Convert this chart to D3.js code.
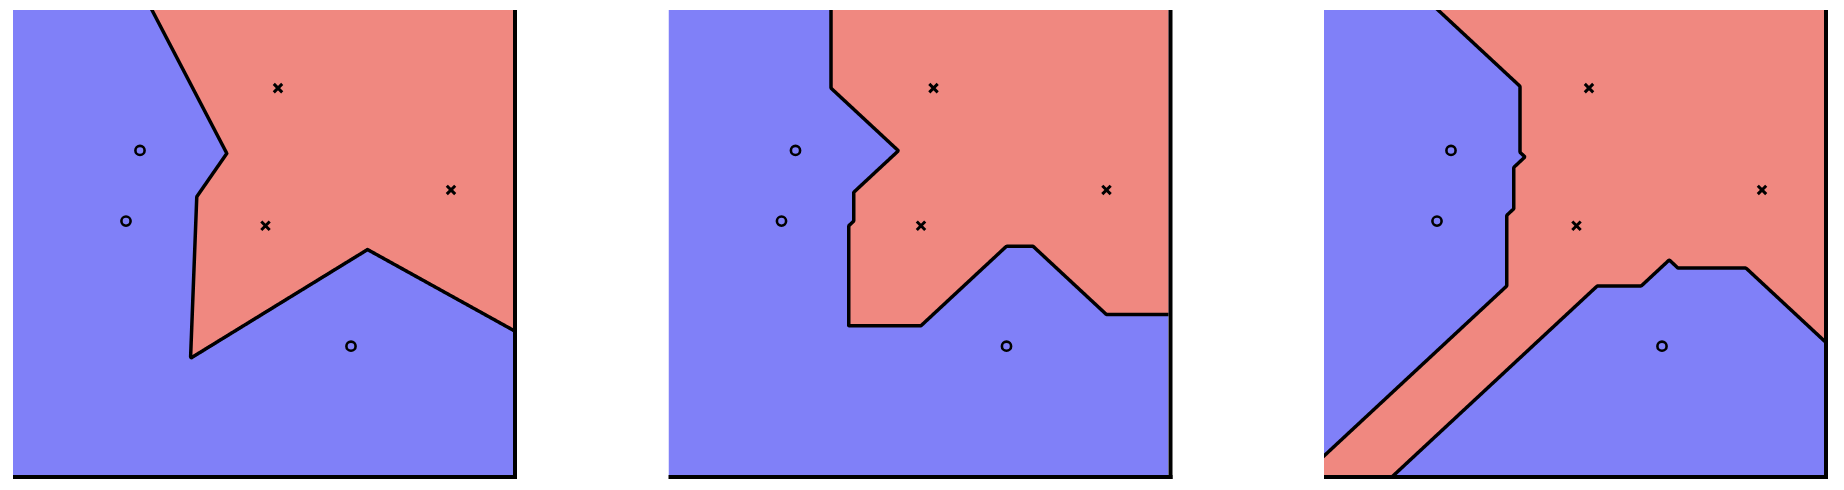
<!DOCTYPE html>
<html>
<head>
<meta charset="utf-8">
<script src="https://cdn.jsdelivr.net/npm/d3@7"></script>
<style>
  html, body { margin: 0; padding: 0; background: #ffffff; }
  svg { display: block; }
</style>
</head>
<body>
<svg id="chart" width="1844" height="490"></svg>
<script>
// ---- data ----
const metrics = ["L2", "L1", "Linf"];           // one panel per distance metric (1-NN)
const crossX  = [5.30, 8.76, 5.05];             // class "x" (red) points
const crossY  = [8.32, 6.13, 5.36];
const circleX = [2.54, 2.26, 6.76];             // class "o" (blue) points
const circleY = [6.98, 5.46, 2.77];
const domainX = [0, 10];
const domainY = [0, 10];

// ---- layout ----
const panelLeft = [13, 668.5, 1324];
const panelTop = 10, W = 500, H = 465;
const blue = "#8080f8", red = "#f08880";

const dist = {
  L2: (a, b) => Math.hypot(a, b),
  L1: (a, b) => Math.abs(a) + Math.abs(b),
  Linf: (a, b) => Math.max(Math.abs(a), Math.abs(b))
};

const svg = d3.select("#chart");
const x = d3.scaleLinear().domain(domainX).range([0, W]);
const y = d3.scaleLinear().domain(domainY).range([H, 0]);

const reds = crossX.map((v, i) => [v, crossY[i]]);
const blues = circleX.map((v, i) => [v, circleY[i]]);

metrics.forEach((m, pi) => {
  const g = svg.append("g").attr("transform", `translate(${panelLeft[pi]},${panelTop})`);
  const clipId = "clip" + pi;
  g.append("clipPath").attr("id", clipId)
    .append("rect").attr("x", 0).attr("y", 0).attr("width", W).attr("height", H);

  // grid of nearest-neighbour decision values, extended beyond the panel
  const x0 = -12, y0 = -12, nx = W + 24, ny = H + 24;
  const values = new Float64Array(nx * ny);
  const f = dist[m];
  for (let j = 0; j < ny; j++) {
    const dy = y.invert(y0 + j + 0.5);
    for (let i = 0; i < nx; i++) {
      const dx = x.invert(x0 + i + 0.5);
      let dr = Infinity, db = Infinity;
      for (const p of reds) dr = Math.min(dr, f(dx - p[0], dy - p[1]));
      for (const p of blues) db = Math.min(db, f(dx - p[0], dy - p[1]));
      values[j * nx + i] = db - dr;
    }
  }
  const contour = d3.contours().size([nx, ny]).thresholds([0])(values)[0];
  const path = d3.geoPath(d3.geoIdentity().translate([x0, y0]));

  const body = g.append("g").attr("clip-path", `url(#${clipId})`);
  body.append("rect").attr("width", W).attr("height", H).attr("fill", blue);
  body.append("path").attr("d", path(contour)).attr("fill", red);
  body.append("path").attr("d", path(contour)).attr("fill", "none")
    .attr("stroke", "#000").attr("stroke-width", 3.5).attr("stroke-linejoin", "round");

  // axis lines (right and bottom)
  g.append("line").attr("x1", W + 2).attr("x2", W + 2).attr("y1", 0).attr("y2", H + 4)
    .attr("stroke", "#000").attr("stroke-width", 4);
  g.append("line").attr("x1", 0).attr("x2", W + 4).attr("y1", H + 2).attr("y2", H + 2)
    .attr("stroke", "#000").attr("stroke-width", 4);

  // markers
  g.selectAll("circle.o").data(blues).join("circle").attr("class", "o")
    .attr("cx", d => x(d[0])).attr("cy", d => y(d[1])).attr("r", 4.6)
    .attr("fill", "none").attr("stroke", "#000").attr("stroke-width", 2.6);
  const s = 4.2;
  g.selectAll("path.x").data(reds).join("path").attr("class", "x")
    .attr("d", d => {
      const cx = x(d[0]), cy = y(d[1]);
      return `M${cx - s},${cy - s}L${cx + s},${cy + s}M${cx - s},${cy + s}L${cx + s},${cy - s}`;
    })
    .attr("stroke", "#000").attr("stroke-width", 3);
});
</script>
</body>
</html>
